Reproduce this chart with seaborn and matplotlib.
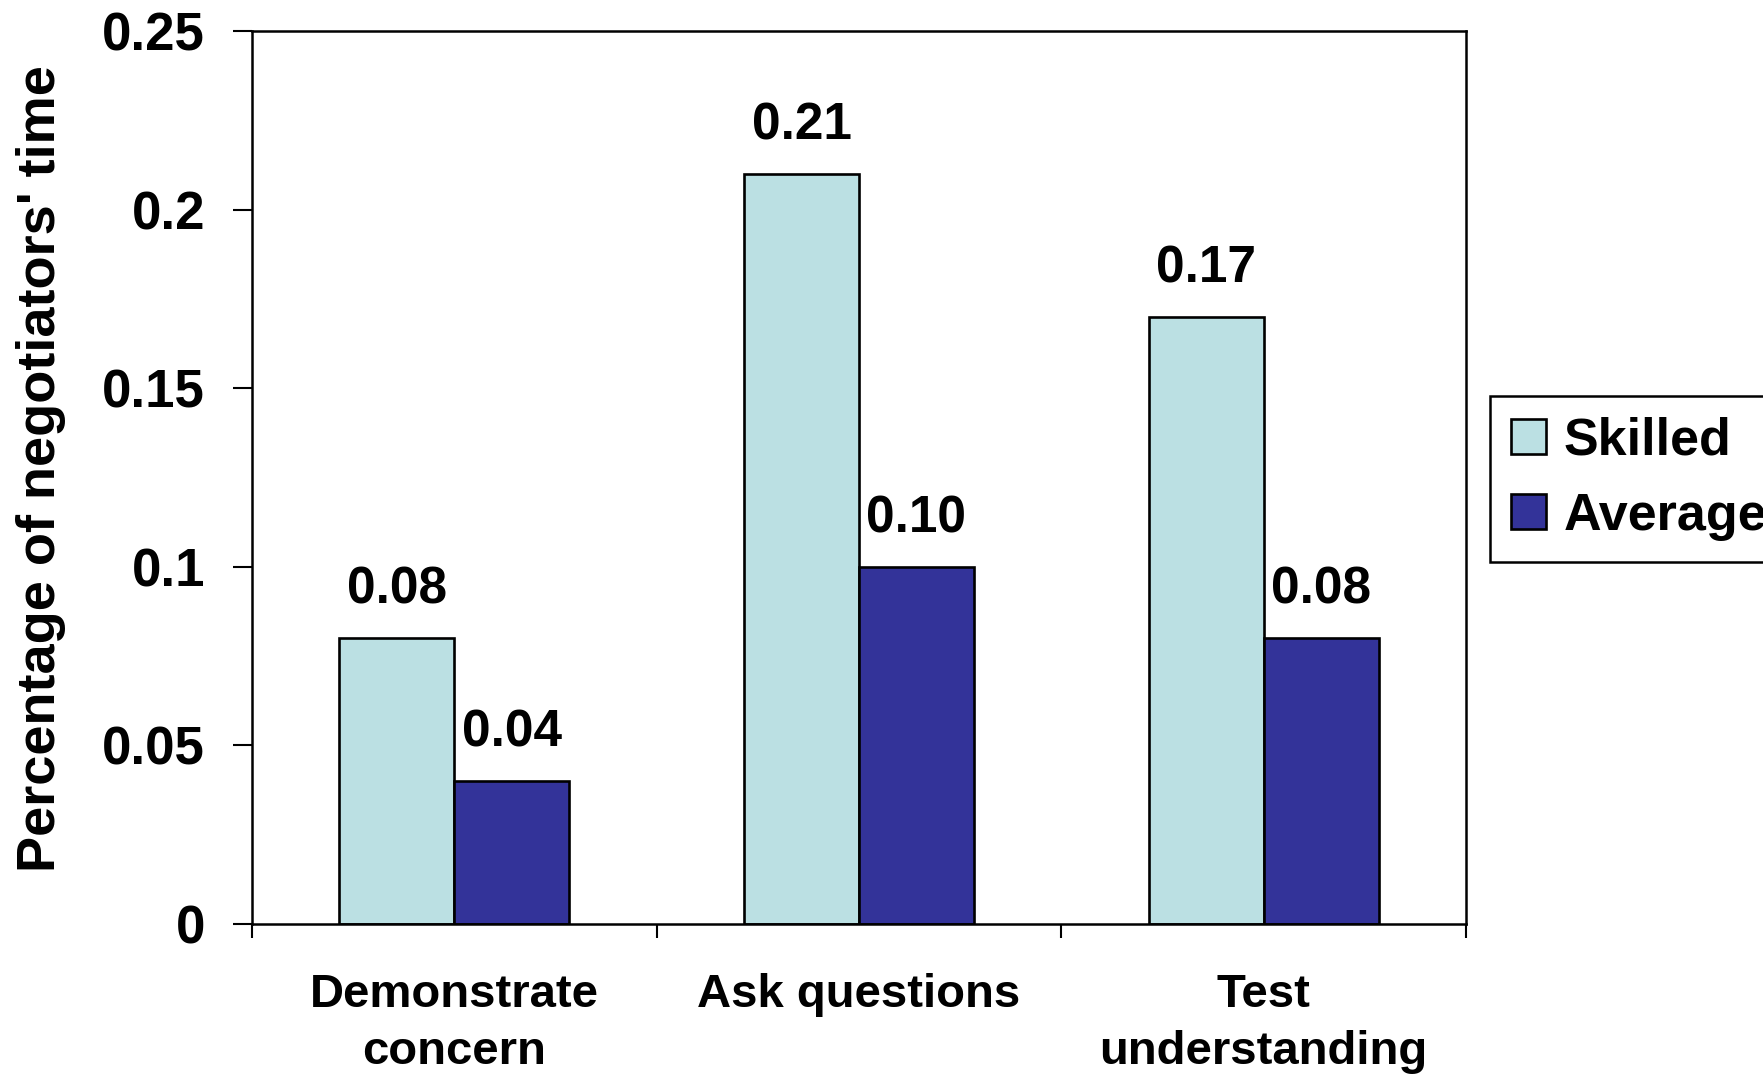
import matplotlib
matplotlib.use("Agg")
import matplotlib.pyplot as plt
import pandas as pd
import seaborn as sns

behaviors = ["Demonstrate\nconcern", "Ask questions", "Test\nunderstanding"]
groups = ["Skilled", "Average"]
skilled = [0.08, 0.21, 0.17]
average = [0.04, 0.10, 0.08]
y_ticks = [0, 0.05, 0.10, 0.15, 0.20, 0.25]
y_tick_labels = ["0", "0.05", "0.1", "0.15", "0.2", "0.25"]
colors = ["#BBE0E3", "#333399"]

df = pd.DataFrame({
    "behavior": behaviors * 2,
    "group": [groups[0]] * 3 + [groups[1]] * 3,
    "share": skilled + average,
})

sns.set_style("white")
plt.rcParams["font.family"] = ["Liberation Sans", "DejaVu Sans"]
plt.rcParams["font.weight"] = "bold"
plt.rcParams["text.color"] = "black"
plt.rcParams["axes.labelcolor"] = "black"
plt.rcParams["xtick.color"] = "black"
plt.rcParams["ytick.color"] = "black"

fig = plt.figure(figsize=(17.63, 10.75), dpi=100)
ax = fig.add_axes([0.1429, 0.1405, 0.6886, 0.8307])

sns.barplot(data=df, x="behavior", y="share", hue="group", order=behaviors,
            hue_order=groups, palette=colors, width=0.568, edgecolor="black",
            linewidth=1.9, saturation=1, ax=ax)

for cont in ax.containers:
    ax.bar_label(cont, fmt="%.2f", padding=17, fontsize=37, fontweight="bold",
                 color="black")

ax.set_xlim(-0.5, 2.5)
ax.set_ylim(0, 0.25)
ax.set_yticks(y_ticks)
ax.set_yticklabels(y_tick_labels)
ax.tick_params(axis="y", direction="out", length=13.7, width=1.5, pad=20,
               labelsize=38, color="black", labelcolor="black", left=True)
for lab in ax.get_yticklabels():
    lab.set_fontweight("bold")

# category labels sit between the boundary ticks
ax.set_xticks([0, 1, 2])
ax.set_xticklabels(behaviors)
ax.tick_params(axis="x", which="major", length=0, pad=35, labelsize=34,
               labelcolor="black")
for lab in ax.get_xticklabels():
    lab.set_fontweight("bold")
    lab.set_linespacing(1.4)
ax.set_xticks([-0.5, 0.5, 1.5, 2.5], minor=True)
ax.tick_params(axis="x", which="minor", direction="out", length=10,
               width=1.5, color="black", bottom=True)

ax.set_xlabel("")
ax.set_ylabel("Percentage of negotiators' time", fontsize=39,
              fontweight="bold", color="black")
ax.yaxis.set_label_coords(-0.153, 0.51)

for side in ["left", "right", "top", "bottom"]:
    ax.spines[side].set_visible(True)
    ax.spines[side].set_color("black")
    ax.spines[side].set_linewidth(1.8)

handles, labels = ax.get_legend_handles_labels()
leg = ax.legend(handles, labels, loc="upper left",
                bbox_to_anchor=(1490 / 1763, 1 - 396 / 1075),
                bbox_transform=fig.transFigure, fontsize=37.5,
                frameon=True, fancybox=False, shadow=False,
                edgecolor="black", framealpha=1, handlelength=0.67,
                handleheight=0.67, handletextpad=0.35, borderpad=0.4,
                labelspacing=0.5, borderaxespad=0)
leg.get_frame().set_linewidth(1.8)
for t in leg.get_texts():
    t.set_fontweight("bold")
    t.set_color("black")

fig.savefig("out.png", dpi=100)
